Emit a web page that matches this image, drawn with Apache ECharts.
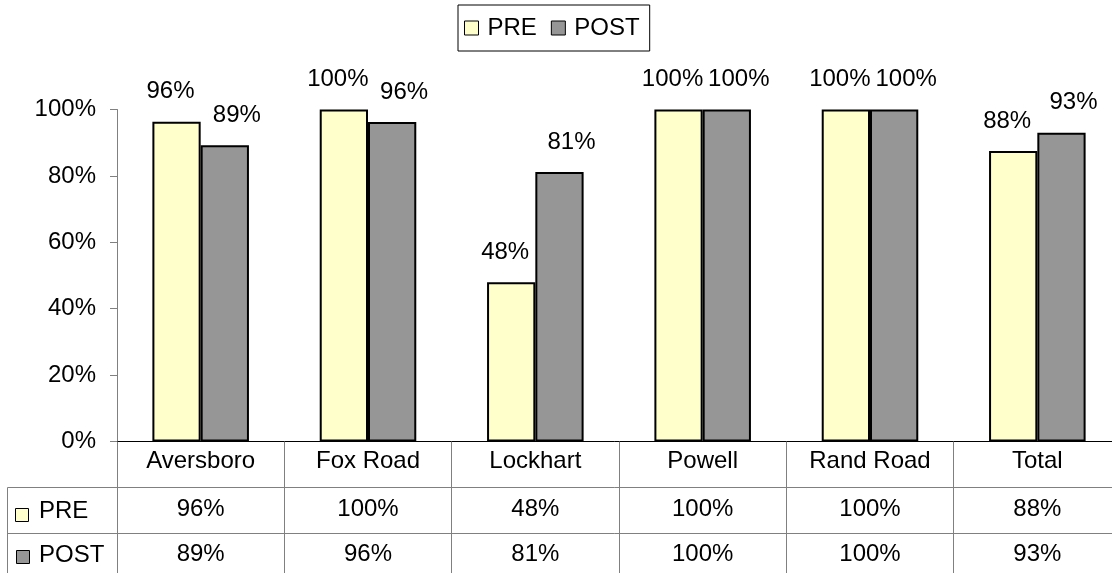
<!DOCTYPE html>
<html>
<head>
<meta charset="utf-8">
<script src="https://cdn.jsdelivr.net/npm/echarts@6/dist/echarts.min.js"></script>
<style>
html,body{margin:0;padding:0;background:#fff;}
#c{width:1112px;height:573px;}
</style>
</head>
<body>
<div id="c"></div>
<script>
const categories = ['Aversboro', 'Fox Road', 'Lockhart', 'Powell', 'Rand Road', 'Total'];
const seriesNames = ['PRE', 'POST'];
const preValues = [96.3, 100, 48, 100, 100, 87.5];
const postValues = [89.2, 96.2, 81.2, 100, 100, 93];
const preLabels = ['96%', '100%', '48%', '100%', '100%', '88%'];
const postLabels = ['89%', '96%', '81%', '100%', '100%', '93%'];
const yTicks = [0, 20, 40, 60, 80, 100];

const FONT = '"Liberation Sans", Arial, sans-serif';
const PRE_COLOR = '#FFFFCC';
const POST_COLOR = '#969696';
const GRID_LINE = '#808080';

const chart = echarts.init(document.getElementById('c'), null, {renderer: 'canvas'});

const labelBase = {fontSize: 24, color: '#000', fontFamily: FONT};

const option = {
  animation: false,
  textStyle: {fontFamily: FONT},
  legend: {
    data: seriesNames,
    left: 458,
    top: 5,
    itemWidth: 14,
    itemHeight: 14,
    itemGap: 14,
    padding: [11, 10, 11, 6],
    borderColor: '#000',
    borderWidth: 1,
    icon: 'rect',
    itemStyle: {borderWidth: 1, borderColor: '#000'},
    textStyle: {fontSize: 24, color: '#000', fontFamily: FONT, padding: [0, 0, 0, 4]}
  },
  grid: {left: 117, top: 109.5, width: 1004, height: 332, containLabel: false, outerBoundsMode: 'none'},
  yAxis: {
    type: 'value',
    min: yTicks[0],
    max: yTicks[yTicks.length - 1],
    interval: yTicks[1] - yTicks[0],
    axisLine: {show: true, lineStyle: {color: GRID_LINE, width: 1}},
    axisTick: {show: true, length: 7, lineStyle: {color: GRID_LINE}},
    splitLine: {show: false},
    axisLabel: Object.assign({formatter: '{value}%', margin: 21}, labelBase)
  },
  xAxis: [
    {
      type: 'category',
      data: categories,
      position: 'bottom',
      axisLine: {show: true, lineStyle: {color: '#000', width: 1}},
      axisTick: {show: true, length: 132, interval: 0, lineStyle: {color: GRID_LINE}},
      axisLabel: Object.assign({interval: 0, margin: 8}, labelBase)
    },
    {
      type: 'category',
      data: categories,
      position: 'bottom',
      offset: 46,
      axisLine: {show: true, lineStyle: {color: GRID_LINE, width: 1}},
      axisTick: {show: false},
      axisLabel: Object.assign({interval: 0, margin: 10, formatter: (v, i) => preLabels[i]}, labelBase)
    },
    {
      type: 'category',
      data: categories,
      position: 'bottom',
      offset: 92,
      axisLine: {show: true, lineStyle: {color: GRID_LINE, width: 1}},
      axisTick: {show: false},
      axisLabel: Object.assign({interval: 0, margin: 9, formatter: (v, i) => postLabels[i]}, labelBase)
    }
  ],
  series: [
    {
      name: seriesNames[0],
      type: 'bar',
      xAxisIndex: 0,
      data: preValues,
      barGap: '0%',
      barCategoryGap: '42.3%',
      itemStyle: {color: PRE_COLOR, borderColor: '#000', borderWidth: 2},
      label: Object.assign({show: true, position: 'top', distance: 18, offset: [-6, 0],
        formatter: p => preLabels[p.dataIndex]}, labelBase)
    },
    {
      name: seriesNames[1],
      type: 'bar',
      xAxisIndex: 0,
      data: postValues,
      barGap: '0%',
      barCategoryGap: '42.3%',
      itemStyle: {color: POST_COLOR, borderColor: '#000', borderWidth: 2},
      label: Object.assign({show: true, position: 'top', distance: 18, offset: [12, 0],
        formatter: p => postLabels[p.dataIndex]}, labelBase)
    }
  ],
  graphic: [
    {type: 'line', shape: {x1: 7.5, y1: 487.5, x2: 117, y2: 487.5}, style: {stroke: GRID_LINE, lineWidth: 1}},
    {type: 'line', shape: {x1: 7.5, y1: 533.5, x2: 117, y2: 533.5}, style: {stroke: GRID_LINE, lineWidth: 1}},
    {type: 'line', shape: {x1: 7.5, y1: 487.5, x2: 7.5, y2: 573}, style: {stroke: GRID_LINE, lineWidth: 1}},
    {type: 'rect', shape: {x: 15.5, y: 508.5, width: 13, height: 13}, style: {fill: PRE_COLOR, stroke: '#000', lineWidth: 1}},
    {type: 'text', x: 39, y: 511, style: {text: seriesNames[0], fontSize: 24, fontFamily: FONT, fill: '#000', verticalAlign: 'middle', align: 'left'}},
    {type: 'rect', shape: {x: 16.5, y: 550.5, width: 13, height: 13}, style: {fill: POST_COLOR, stroke: '#000', lineWidth: 1}},
    {type: 'text', x: 39, y: 555, style: {text: seriesNames[1], fontSize: 24, fontFamily: FONT, fill: '#000', verticalAlign: 'middle', align: 'left'}}
  ]
};

chart.setOption(option);
</script>
</body>
</html>
